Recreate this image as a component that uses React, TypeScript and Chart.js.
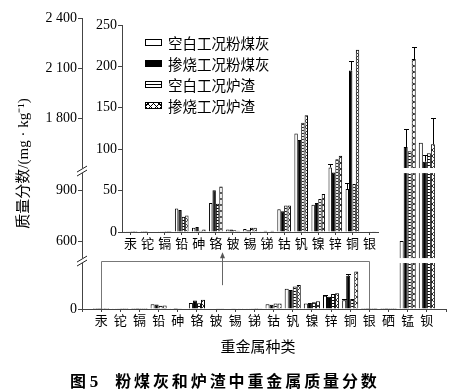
import React, { useEffect, useRef } from 'react';
import { Chart, registerables, LinearScale } from 'chart.js';

Chart.register(...registerables);

// ---------------- data ----------------
const categories = ['汞', '铊', '镉', '铅', '砷', '铬', '铍', '锡', '锑', '钴', '钒', '镍', '锌', '铜', '银', '硒', '锰', '钡'];
const insetCount = 15; // 汞 ... 银
const seriesNames = ['空白工况粉煤灰', '掺烧工况粉煤灰', '空白工况炉渣', '掺烧工况炉渣'];

const blankAsh = [0.3, 1.2, 0.2, 28.5, 5, 35, 3, 3.5, 1, 27.5, 119, 33, 78, 52, 0.5, 0.3, 600, 1652];
const blendAsh = [0.3, 1.2, 0.2, 26.5, 6, 50.5, 3, 2, 1.5, 25, 111, 35, 72, 195, 0.5, 0.3, 1626, 1538];
const blankSlag = [0.1, 0.5, 0.1, 18.5, 1.5, 34, 2, 5, 0.5, 32, 132, 40, 88, 58, 0.2, 0.1, 1600, 1588];
const blendSlag = [0.1, 0.5, 0.1, 20, 3, 55, 1.5, 5, 1.5, 32, 141, 46, 92, 220, 0.2, 0.1, 2154, 1642];

const errBlankAsh = [null, null, null, null, null, null, null, null, null, null, null, null, 4, 7, null, null, null, null];
const errBlendAsh = [null, null, null, null, null, null, null, null, null, null, null, null, null, 12, null, null, 108, 40];
const errBlankSlag = [null, null, null, null, null, null, null, null, null, null, null, null, null, null, null, null, null, null];
const errBlendSlag = [null, null, null, null, null, null, null, null, null, null, null, null, null, null, null, null, 72, 158];

const mainTickValues = [0, 600, 900, 1800, 2100, 2400];
const mainTickLabels = ['0', '600', '900', '1 800', '2 100', '2 400'];
const insetTickValues = [0, 50, 100, 150, 200, 250];

// broken-axis segments: value range -> fraction of plot height
const axisSegments = [
  { from: 0, to: 270, f0: 0, f1: 0.158 },
  { from: 500, to: 1000, f0: 0.175, f1: 0.467 },
  { from: 1500, to: 2400, f0: 0.4845, f1: 1 },
];

function segFrac(v: number): number {
  const s = axisSegments;
  const lerp = (a: number, b: number, fa: number, fb: number, x: number) => fa + ((x - a) / (b - a)) * (fb - fa);
  if (v <= s[0].to) return lerp(s[0].from, s[0].to, s[0].f0, s[0].f1, v);
  for (let i = 1; i < s.length; i++) {
    const g = s[i];
    const p = s[i - 1];
    if (v < g.from) return lerp(p.to, g.from, p.f1, g.f0, v);
    if (v <= g.to || i === s.length - 1) return lerp(g.from, g.to, g.f0, g.f1, v);
  }
  return 1;
}

function fracSeg(f: number): number {
  const s = axisSegments;
  const lerp = (fa: number, fb: number, a: number, b: number, x: number) => a + ((x - fa) / (fb - fa)) * (b - a);
  if (f <= s[0].f1) return lerp(s[0].f0, s[0].f1, s[0].from, s[0].to, f);
  for (let i = 1; i < s.length; i++) {
    const g = s[i];
    const p = s[i - 1];
    if (f < g.f0) return lerp(p.f1, g.f0, p.to, g.from, f);
    if (f <= g.f1 || i === s.length - 1) return lerp(g.f0, g.f1, g.from, g.to, f);
  }
  return s[s.length - 1].to;
}

class BrokenScale extends LinearScale {
  static id = 'broken';
  static defaults = LinearScale.defaults;
  getPixelForValue(value: any) {
    if (value === null || value === undefined || isNaN(value)) return NaN;
    const h = (this as any).bottom - (this as any).top;
    return (this as any).bottom - segFrac(+value) * h;
  }
  getValueForPixel(pixel: number) {
    const h = (this as any).bottom - (this as any).top;
    return fracSeg(((this as any).bottom - pixel) / h);
  }
}
Chart.register(BrokenScale as any);

const NUM_FONT = "'Liberation Serif', 'Noto Sans CJK SC', serif";
const CJK_FONT = "'Noto Sans CJK SC', sans-serif";
const AXIS_COLOR = '#444';

// ---------------- patterns ----------------
function makeStripes(): CanvasPattern | string {
  const c = document.createElement('canvas');
  c.width = 4; c.height = 3;
  const g = c.getContext('2d');
  if (!g) return '#fff';
  g.fillStyle = '#fff'; g.fillRect(0, 0, 4, 3);
  g.fillStyle = '#000'; g.fillRect(0, 0, 4, 1);
  return g.createPattern(c, 'repeat') || '#fff';
}
function makeCross(): CanvasPattern | string {
  const c = document.createElement('canvas');
  c.width = 6; c.height = 6;
  const g = c.getContext('2d');
  if (!g) return '#fff';
  g.fillStyle = '#fff'; g.fillRect(0, 0, 6, 6);
  g.strokeStyle = '#000'; g.lineWidth = 0.8;
  g.beginPath();
  g.moveTo(0, 0); g.lineTo(6, 6);
  g.moveTo(6, 0); g.lineTo(0, 6);
  g.stroke();
  return g.createPattern(c, 'repeat') || '#fff';
}

// ---------------- plugins ----------------
const errPlugin = {
  id: 'errBars',
  afterDatasetsDraw(chart: any, _args: any, opts: any) {
    const errs = opts && opts.errs;
    if (!errs) return;
    const ctx = chart.ctx;
    const y = chart.scales.y;
    ctx.save();
    ctx.strokeStyle = '#000';
    ctx.lineWidth = 1;
    chart.data.datasets.forEach((ds: any, d: number) => {
      const meta = chart.getDatasetMeta(d);
      (errs[d] || []).forEach((e: any, i: number) => {
        if (e === null || e === undefined) return;
        const v = ds.data[i];
        const bar = meta.data[i];
        if (!bar || v === null || v === undefined) return;
        const top = Math.round(y.getPixelForValue(v + e)) + 0.5;
        const x = Math.round(bar.x) + 0.5;
        ctx.beginPath();
        ctx.moveTo(x, bar.y);
        ctx.lineTo(x, top);
        ctx.moveTo(x - 2.5, top);
        ctx.lineTo(x + 2.5, top);
        ctx.stroke();
      });
    });
    ctx.restore();
  },
};

const breakPlugin = {
  id: 'axisBreaks',
  afterDatasetsDraw(chart: any) {
    const { ctx, chartArea } = chart;
    const y = chart.scales.y;
    ctx.save();
    for (let i = 0; i < axisSegments.length - 1; i++) {
      const yTop = y.getPixelForValue(axisSegments[i + 1].from);
      const yBot = y.getPixelForValue(axisSegments[i].to);
      ctx.fillStyle = '#fff';
      ctx.fillRect(chartArea.left - 6, yTop, chartArea.right - chartArea.left + 7, yBot - yTop);
      const yc = (yTop + yBot) / 2;
      const x = chartArea.left;
      ctx.strokeStyle = '#222';
      ctx.lineWidth = 1;
      ctx.beginPath();
      ctx.moveTo(x - 5, yc + 1.5); ctx.lineTo(x + 5, yc - 4.5);
      ctx.moveTo(x - 5, yc + 5.5); ctx.lineTo(x + 5, yc - 0.5);
      ctx.stroke();
    }
    ctx.restore();
  },
  afterDraw(chart: any) {
    const { ctx, chartArea } = chart;
    const x = chart.scales.x;
    const y = chart.scales.y;
    ctx.save();
    // zoom box around the inset categories (汞 ... 银)
    const bl = Math.round(x.getPixelForTick(1)) + 0.5;
    const br = Math.round(x.getPixelForTick(insetCount)) + 0.5;
    const bt = Math.round(y.getPixelForValue(axisSegments[0].to) - 2) + 0.5;
    ctx.strokeStyle = '#777';
    ctx.lineWidth = 1;
    ctx.beginPath();
    ctx.moveTo(bl, chartArea.bottom);
    ctx.lineTo(bl, bt);
    ctx.lineTo(br, bt);
    ctx.lineTo(br, chartArea.bottom);
    ctx.stroke();
    // arrow pointing up to the inset
    const ax = Math.round(x.getPixelForTick(7) * 0.7 + x.getPixelForTick(8) * 0.3) + 0.5;
    const ay0 = y.getPixelForValue(140);
    const ay1 = y.getPixelForValue(535);
    ctx.strokeStyle = '#666';
    ctx.beginPath();
    ctx.moveTo(ax, ay0);
    ctx.lineTo(ax, ay1 + 4);
    ctx.stroke();
    ctx.fillStyle = '#555';
    ctx.beginPath();
    ctx.moveTo(ax, ay1);
    ctx.lineTo(ax - 2.5, ay1 + 6);
    ctx.lineTo(ax + 2.5, ay1 + 6);
    ctx.closePath();
    ctx.fill();
    ctx.restore();
  },
};

function buildDatasets(n: number, pad: boolean, fills: any[], catPct: number) {
  const arrs = [blankAsh, blendAsh, blankSlag, blendSlag];
  return arrs.map((a, k) => {
    const vals: (number | null)[] = a.slice(0, n);
    return {
      label: seriesNames[k],
      data: pad ? [null, ...vals, null] : vals,
      backgroundColor: fills[k],
      borderColor: '#000',
      borderWidth: 1,
      categoryPercentage: catPct,
      barPercentage: 1,
    };
  });
}

function buildErrs(n: number, pad: boolean) {
  return [errBlankAsh, errBlendAsh, errBlankSlag, errBlendSlag].map((a) => {
    const v = a.slice(0, n);
    return pad ? [null, ...v, null] : v;
  });
}

export default function App() {
  const mainRef = useRef<HTMLCanvasElement | null>(null);
  const insetRef = useRef<HTMLCanvasElement | null>(null);

  useEffect(() => {
    document.body.style.margin = '0';
    const fills = ['#fff', '#000', makeStripes(), makeCross()];

    const main = new Chart(mainRef.current as HTMLCanvasElement, {
      type: 'bar',
      data: {
        labels: ['', ...categories, ''],
        datasets: buildDatasets(categories.length, true, fills, 0.84) as any,
      },
      options: {
        responsive: false,
        animation: false,
        events: [],
        layout: { padding: { left: 0, top: 18, right: 23, bottom: 52 } },
        plugins: {
          legend: { display: false },
          tooltip: { enabled: false },
          errBars: { errs: buildErrs(categories.length, true) },
        } as any,
        scales: {
          x: {
            type: 'category',
            offset: false,
            grid: { offset: false, drawOnChartArea: false, drawTicks: true, tickLength: 3, color: AXIS_COLOR },
            border: { color: AXIS_COLOR, width: 1 },
            ticks: { font: { family: NUM_FONT, size: 13 }, color: '#000', padding: 2, maxRotation: 0, autoSkip: false },
            afterFit: (s: any) => { s.height = 30; },
          },
          y: {
            type: 'broken' as any,
            min: 0,
            max: 2400,
            grid: { drawOnChartArea: false, drawTicks: true, tickLength: 4, color: AXIS_COLOR },
            border: { color: AXIS_COLOR, width: 1 },
            ticks: {
              font: { family: NUM_FONT, size: 14 },
              color: '#000',
              padding: 1,
              callback: (v: any) => {
                const i = mainTickValues.indexOf(+v);
                return i >= 0 ? mainTickLabels[i] : '';
              },
            },
            afterBuildTicks: (s: any) => { s.ticks = mainTickValues.map((v) => ({ value: v })); },
            afterFit: (s: any) => { s.width = 82; },
            title: {
              display: true,
              text: '质量分数/(mg · kg⁻¹)',
              font: { family: NUM_FONT, size: 15 },
              color: '#000',
              padding: { top: 15, bottom: 0 },
            },
          } as any,
        },
      },
      plugins: [errPlugin, breakPlugin],
    });

    const inset = new Chart(insetRef.current as HTMLCanvasElement, {
      type: 'bar',
      data: {
        labels: categories.slice(0, insetCount),
        datasets: buildDatasets(insetCount, false, fills, 0.8) as any,
      },
      options: {
        responsive: false,
        animation: false,
        events: [],
        layout: { padding: { left: 0, top: 15, right: 7, bottom: 3 } },
        plugins: {
          legend: { display: false },
          tooltip: { enabled: false },
          errBars: { errs: buildErrs(insetCount, false) },
        } as any,
        scales: {
          x: {
            type: 'category',
            grid: { offset: false, drawOnChartArea: false, drawTicks: true, tickLength: 3, color: AXIS_COLOR },
            border: { color: AXIS_COLOR, width: 1 },
            ticks: { font: { family: NUM_FONT, size: 13 }, color: '#000', padding: 2, maxRotation: 0, autoSkip: false },
            afterFit: (s: any) => { s.height = 20; },
          },
          y: {
            type: 'linear',
            min: 0,
            max: 250,
            grid: { drawOnChartArea: false, drawTicks: true, tickLength: 4, color: AXIS_COLOR },
            border: { color: AXIS_COLOR, width: 1 },
            ticks: { font: { family: NUM_FONT, size: 14 }, color: '#000', padding: 1 },
            afterBuildTicks: (s: any) => { s.ticks = insetTickValues.map((v) => ({ value: v })); },
            afterFit: (s: any) => { s.width = 42; },
          },
        },
      },
      plugins: [errPlugin],
    });

    return () => {
      main.destroy();
      inset.destroy();
    };
  }, []);

  const swatches: React.CSSProperties[] = [
    { background: '#fff' },
    { background: '#000' },
    { background: 'linear-gradient(to bottom, #fff 0 2px, #000 2px 3px, #fff 3px)' },
    {
      background:
        'repeating-linear-gradient(45deg, #000 0 0.8px, transparent 0.8px 4px), repeating-linear-gradient(-45deg, #000 0 0.8px, transparent 0.8px 4px), #fff',
    },
  ];
  const legendRowCenters = [42.5, 63.5, 84.5, 105.5];

  return (
    <div style={{ position: 'relative', width: 469, height: 391, background: '#fff', overflow: 'hidden' }}>
      <canvas ref={mainRef} width={469} height={391} style={{ position: 'absolute', left: 0, top: 0 }} />
      <canvas ref={insetRef} width={305} height={245} style={{ position: 'absolute', left: 80, top: 10 }} />
      {seriesNames.map((name, i) => (
        <div
          key={name}
          style={{
            position: 'absolute',
            left: 145,
            top: legendRowCenters[i] - 10,
            height: 20,
            display: 'flex',
            alignItems: 'center',
            whiteSpace: 'nowrap',
          }}
        >
          <div style={{ width: 17, height: 7, boxSizing: 'border-box', border: '1px solid #000', ...swatches[i] }} />
          <span style={{ marginLeft: 6, fontFamily: CJK_FONT, fontSize: 14.5, lineHeight: '20px', color: '#000' }}>{name}</span>
        </div>
      ))}
      <div
        style={{
          position: 'absolute',
          left: 208,
          top: 336,
          width: 100,
          textAlign: 'center',
          fontFamily: CJK_FONT,
          fontSize: 15,
          lineHeight: '20px',
          color: '#000',
          whiteSpace: 'nowrap',
        }}
      >
        重金属种类
      </div>
      <div
        style={{
          position: 'absolute',
          left: 70,
          top: 370,
          fontFamily: CJK_FONT,
          fontWeight: 'bold',
          fontSize: 16,
          lineHeight: '20px',
          color: '#000',
          whiteSpace: 'nowrap',
        }}
      >
        <span>图 <span style={{ fontFamily: NUM_FONT, fontSize: 17 }}>5</span></span>
        <span style={{ marginLeft: 17, letterSpacing: '2.9px' }}>粉煤灰和炉渣中重金属质量分数</span>
      </div>
    </div>
  );
}
